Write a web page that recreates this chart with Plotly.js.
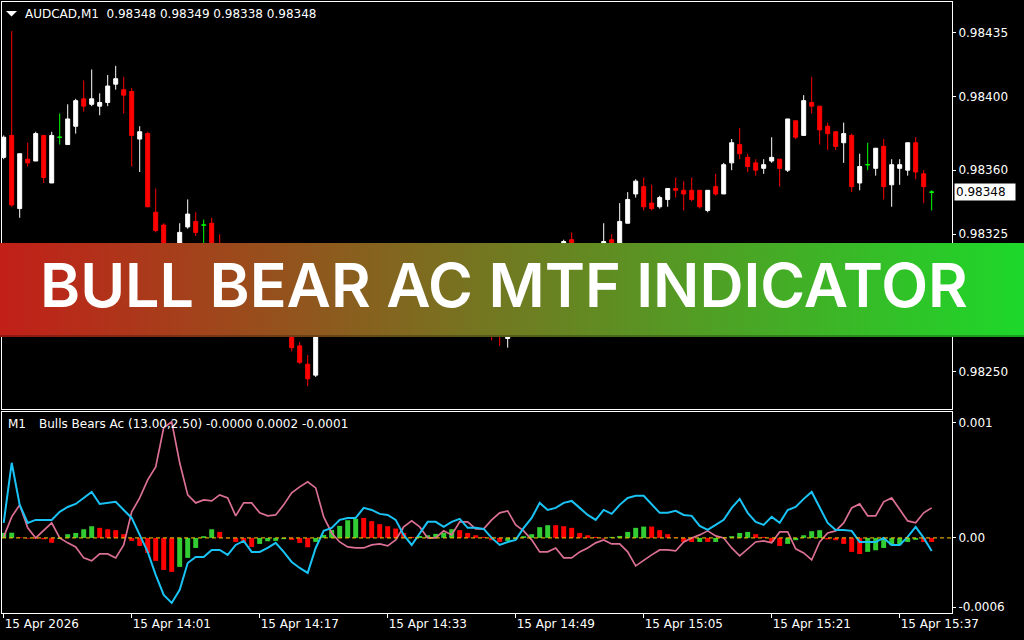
<!DOCTYPE html>
<html><head><meta charset="utf-8">
<script src="https://cdn.plot.ly/plotly-3.0.1.min.js"></script>
<style>html,body{margin:0;padding:0;background:#000;}#chart{width:1024px;height:640px;}</style>
</head><body><div id="chart"></div>
<script>
// ---- price data (AUDCAD, M1), one entry per minute from 13:45 ----
const opens=[0.98367,0.98379,0.98339,0.98366,0.98365,0.98379,0.98353,0.98378,0.98374,0.98384,
0.98399,0.98396,0.98395,0.98397,0.98407,0.98404,0.98403,0.98377,0.98380,0.98337,
0.98330,0.98310,0.98312,0.98329,0.98332,0.98330,0.98331,0.98318,0.98306,0.98299,
0.98303,0.98295,0.98290,0.98296,0.98286,0.98289,0.98276,0.98264,0.98254,0.98248,
0.98280,0.98288,0.98295,0.98299,0.98293,0.98298,0.98291,0.98287,0.98292,0.98283,
0.98279,0.98274,0.98281,0.98285,0.98283,0.98290,0.98286,0.98289,0.98295,0.98287,
0.98280,0.98276,0.98272,0.98268,0.98270,0.98281,0.98289,0.98294,0.98291,0.98303,
0.98311,0.98322,0.98308,0.98303,0.98310,0.98312,0.98322,0.98318,0.98331,0.98347,
0.98351,0.98342,0.98340,0.98344,0.98350,0.98349,0.98349,0.98349,0.98338,0.98351,
0.98347,0.98364,0.98374,0.98367,0.98364,0.98361,0.98365,0.98366,0.98360,0.98387,
0.98379,0.98397,0.98395,0.98384,0.98381,0.98375,0.98379,0.98353,0.98363,0.98361,
0.98373,0.98352,0.98361,0.98360,0.98375,0.98358,0.98348];
const highs=[0.98379,0.98436,0.98369,0.98375,0.98381,0.98379,0.98381,0.98391,0.98396,0.98399,
0.98409,0.98415,0.98402,0.98412,0.98417,0.98411,0.98405,0.98384,0.98381,0.98350,
0.98331,0.98318,0.98331,0.98344,0.98337,0.98333,0.98334,0.98325,0.98310,0.98305,
0.98308,0.98300,0.98298,0.98299,0.98292,0.98293,0.98280,0.98266,0.98259,0.98283,
0.98290,0.98297,0.98302,0.98304,0.98301,0.98303,0.98296,0.98294,0.98295,0.98289,
0.98284,0.98283,0.98288,0.98291,0.98293,0.98296,0.98292,0.98298,0.98299,0.98290,
0.98284,0.98280,0.98277,0.98272,0.98284,0.98292,0.98297,0.98300,0.98305,0.98314,
0.98322,0.98326,0.98315,0.98312,0.98316,0.98331,0.98325,0.98342,0.98348,0.98355,
0.98356,0.98352,0.98346,0.98350,0.98356,0.98354,0.98356,0.98349,0.98349,0.98358,
0.98364,0.98377,0.98383,0.98369,0.98366,0.98366,0.98378,0.98366,0.98388,0.98387,
0.98401,0.98411,0.98395,0.98386,0.98381,0.98386,0.98380,0.98369,0.98375,0.98372,
0.98377,0.98366,0.98366,0.98375,0.98378,0.98360,0.98349];
const lows=[0.98366,0.98340,0.98334,0.98362,0.98365,0.98353,0.98353,0.98374,0.98374,0.98380,
0.98392,0.98395,0.98390,0.98395,0.98404,0.98391,0.98362,0.98359,0.98340,0.98326,
0.98311,0.98306,0.98310,0.98328,0.98324,0.98318,0.98310,0.98302,0.98296,0.98294,
0.98292,0.98287,0.98288,0.98284,0.98280,0.98274,0.98261,0.98254,0.98242,0.98247,
0.98277,0.98285,0.98291,0.98290,0.98290,0.98289,0.98284,0.98283,0.98281,0.98276,
0.98269,0.98272,0.98278,0.98280,0.98281,0.98284,0.98282,0.98286,0.98285,0.98278,
0.98272,0.98267,0.98264,0.98263,0.98269,0.98278,0.98285,0.98288,0.98289,0.98300,
0.98309,0.98305,0.98300,0.98299,0.98305,0.98309,0.98312,0.98315,0.98331,0.98345,
0.98338,0.98338,0.98339,0.98340,0.98345,0.98338,0.98343,0.98339,0.98337,0.98346,
0.98347,0.98360,0.98366,0.98359,0.98357,0.98358,0.98364,0.98351,0.98359,0.98377,
0.98379,0.98391,0.98374,0.98371,0.98371,0.98364,0.98348,0.98349,0.98360,0.98357,
0.98344,0.98340,0.98352,0.98357,0.98355,0.98342,0.98338];
const closes=[0.98378,0.98341,0.98369,0.98364,0.98380,0.98356,0.98379,0.98378,0.98388,0.98398,
0.98395,0.98399,0.98397,0.98406,0.98410,0.98401,0.98379,0.98381,0.98340,0.98327,
0.98315,0.98316,0.98326,0.98336,0.98326,0.98330,0.98314,0.98306,0.98299,0.98303,
0.98295,0.98290,0.98296,0.98286,0.98289,0.98277,0.98263,0.98255,0.98246,0.98280,
0.98288,0.98295,0.98299,0.98293,0.98298,0.98291,0.98287,0.98292,0.98283,0.98279,
0.98274,0.98281,0.98285,0.98283,0.98290,0.98286,0.98289,0.98295,0.98287,0.98280,
0.98276,0.98272,0.98270,0.98270,0.98281,0.98289,0.98294,0.98291,0.98303,0.98311,
0.98321,0.98308,0.98303,0.98310,0.98313,0.98321,0.98315,0.98332,0.98344,0.98354,
0.98340,0.98339,0.98345,0.98350,0.98349,0.98347,0.98344,0.98340,0.98349,0.98347,
0.98363,0.98375,0.98369,0.98362,0.98360,0.98363,0.98367,0.98361,0.98388,0.98378,
0.98398,0.98395,0.98382,0.98380,0.98373,0.98380,0.98351,0.98362,0.98363,0.98372,
0.98351,0.98363,0.98363,0.98375,0.98359,0.98351,0.98348];

// ---- Bulls Bears Ac indicator ----
const acUp=[0.000043,0.000045,null,null,null,null,null,-0.00001,0.000032,0.000043,
0.000075,0.000101,null,null,null,null,null,null,null,null,
null,null,-0.000251,-0.000173,-0.000087,0.000015,0.000075,null,null,null,
null,null,-0.000052,-0.000029,-0.000026,-0.000011,null,null,null,-0.000035,
0.000026,0.000069,0.000104,0.000153,0.000165,null,null,null,null,null,
null,null,0.000017,0.000023,0.000035,0.000046,0.000075,null,null,null,
null,null,null,-0.000026,-0.000011,0.000015,0.000032,0.000093,0.00011,null,
null,null,null,null,null,null,0.000009,0.000017,0.000052,0.000087,
0.000098,null,null,null,null,null,null,-0.000035,null,-0.000035,
0.000006,0.000015,0.000043,0.000052,null,null,null,null,-0.000052,-0.00002,
0.000023,0.000058,0.000067,null,null,null,null,null,-0.000121,-0.000107,
-0.000087,-0.000063,-0.000058,-0.000035,-0.000017,null,null];
const acDown=[null,null,0.000005,-0.000006,-0.000008,-0.000012,-0.000042,null,null,null,
null,null,0.000087,0.000075,0.000067,0.000032,-0.000026,-0.000069,-0.00013,-0.000199,
-0.000277,-0.000294,null,null,null,null,null,0.000052,-0.000004,-0.000035,
-0.000043,-0.000078,null,null,null,null,-0.000017,-0.000043,-0.000081,null,
null,null,null,null,null,0.000173,0.000145,0.000119,0.000101,0.000081,
0.000043,0.000009,null,null,null,null,null,0.000067,0.000043,0.000023,
0.000009,-0.00002,-0.000035,null,null,null,null,null,null,0.00011,
0.000101,0.000087,0.000043,0.000023,0.000009,-0.000006,null,null,null,null,
null,0.000098,0.000067,0.000032,0.000006,-0.000035,-0.000035,null,-0.000035,null,
null,null,null,null,0.000032,0.000009,-0.000035,-0.000069,null,null,
null,null,null,-0.000013,-0.00002,-0.000052,-0.000121,-0.000139,null,null,
null,null,null,null,null,-0.000035,-0.000035];
const blueLine=[0.00013,0.00065,0.000286,0.00013,0.000156,0.000156,0.000156,0.000225,0.000268,0.000294,
0.000346,0.000398,0.000294,0.000303,0.000312,0.000242,0.000173,0.000026,-0.000121,-0.00032,
-0.000494,-0.000563,-0.00045,-0.000217,-0.000165,-0.000165,-0.000104,-0.000104,-0.000147,-0.000061,
-0.000026,-0.000121,-0.000121,-0.000087,-0.000043,-0.000121,-0.000208,-0.00026,-0.000303,-0.000087,
0.000061,0.000087,0.000156,0.000173,0.000173,0.00026,0.000242,0.000208,0.000199,0.000156,
0.000026,-0.000061,0.000043,0.000139,0.000139,0.000095,0.000139,0.000165,0.000087,0.000087,
0.000078,0,-0.000061,-0.000035,-0.000017,0.000087,0.000173,0.000303,0.000242,0.00026,
0.000303,0.00032,0.00026,0.000199,0.000156,0.000242,0.000208,0.000286,0.000346,0.000364,
0.000364,0.000286,0.000217,0.000217,0.000234,0.000199,0.000191,0.000104,0.000069,0.000113,
0.000156,0.00026,0.000338,0.000217,0.000139,0.000113,0.000182,0.00013,0.000242,0.000268,
0.000338,0.000398,0.00026,0.00013,0.000069,0.000069,0.000061,-0.000035,-0.000035,-0.000035,
0,-0.000061,-0.000061,0.000009,0.000095,0,-0.000113];
const pinkLine=[0.000009,0.000182,0.000286,0.000087,0,0.000069,0.00013,0,-0.000043,-0.000078,
-0.000173,-0.000199,-0.000139,-0.000139,-0.000173,-0.000061,0.000225,0.000346,0.000502,0.000615,
0.000953,0.001005,0.00065,0.000372,0.000303,0.000329,0.00032,0.000372,0.000346,0.000191,
0.000303,0.000303,0.000217,0.000191,0.000199,0.000286,0.00039,0.000442,0.000485,0.000433,
0.000182,0.000043,-0.000035,-0.000078,-0.000087,-0.000087,-0.000061,-0.000052,-0.000069,-0.000017,
0.000095,0.000147,0.000095,0,0,0.000061,0.000026,0.000139,0.000139,0.000078,
0.000078,0.000156,0.000217,0.000234,0.000113,0.000061,-0.000017,-0.000121,-0.000121,-0.000087,
-0.000173,-0.000173,-0.000121,-0.000087,-0.000043,-0.000017,-0.000052,-0.000052,-0.000121,-0.000242,
-0.000191,-0.000147,-0.000104,-0.000104,-0.000113,-0.000035,0,0.000026,0.000061,0.000017,
0,-0.000087,-0.000156,-0.000095,-0.000035,-0.000026,-0.000043,0.000052,0.000052,-0.000095,
-0.00013,-0.000191,-0.000035,0.000043,0.000061,0.00013,0.00026,0.000294,0.000191,0.000191,
0.000312,0.000346,0.000242,0.000147,0.00013,0.000217,0.00026];

// ---- axis labels ----
const timeTickIdx=[0,16,32,48,64,80,96,112];
const timeTickText=['15 Apr 2026','15 Apr 14:01','15 Apr 14:17','15 Apr 14:33','15 Apr 14:49','15 Apr 15:05','15 Apr 15:21','15 Apr 15:37'];
const priceTicks=[0.98250,0.98325,0.98360,0.98400,0.98435];
const indTicks=[-0.0006,0,0.001];
const indTickText=['-0.0006','0.00','0.001'];
const symbolHeader='AUDCAD,M1\u00a0\u00a00.98348 0.98349 0.98338 0.98348';
const indName='Bulls Bears Ac (13.00,2.50) -0.0000 0.0002 -0.0001';
const lastPrice=0.98348;
const bannerText='BULL BEAR AC MTF INDICATOR';

const idx=opens.map((_,i)=>i);
function pick(cond){
  const s={x:[],open:[],high:[],low:[],close:[]};
  idx.forEach(i=>{ if(cond(i)){s.x.push(i);s.open.push(opens[i]);s.high.push(highs[i]);s.low.push(lows[i]);s.close.push(closes[i]);} });
  return s;
}
const bull=pick(i=>closes[i]>opens[i]);
const bear=pick(i=>closes[i]<opens[i]);
const doji=pick(i=>closes[i]===opens[i]);

function candle(s,col){
  return Object.assign({type:'candlestick',xaxis:'x',yaxis:'y',hoverinfo:'skip',
    increasing:{line:{color:col,width:1},fillcolor:col},
    decreasing:{line:{color:col,width:1},fillcolor:col}},s);
}
const FONT='DejaVu Sans, sans-serif';
const traces=[
  candle(bull,'#ffffff'),candle(bear,'#ff0000'),candle(doji,'#00ff00'),
  {type:'bar',x:idx,y:acUp,xaxis:'x2',yaxis:'y2',marker:{color:'#32cd32',line:{width:0}},width:0.62,hoverinfo:'skip'},
  {type:'bar',x:idx,y:acDown,xaxis:'x2',yaxis:'y2',marker:{color:'#ff0000',line:{width:0}},width:0.62,hoverinfo:'skip'},
  {type:'scatter',mode:'lines',x:idx,y:pinkLine,xaxis:'x2',yaxis:'y2',line:{color:'#db7093',width:1.7},hoverinfo:'skip'},
  {type:'scatter',mode:'lines',x:idx,y:blueLine,xaxis:'x2',yaxis:'y2',line:{color:'#19c3f5',width:2},hoverinfo:'skip'}
];

const PX=p=>(p-2)/950, PY=p=>(613-p)/611;
const xr=[-0.2125,118.54];
const gradSvg="<svg xmlns='http://www.w3.org/2000/svg' width='1024' height='94' viewBox='0 0 1024 94' preserveAspectRatio='none'><defs><linearGradient id='g' x1='0' y1='0' x2='1' y2='0'><stop offset='0' stop-color='#c21f18'/><stop offset='1' stop-color='#1dd82a'/></linearGradient></defs><rect width='1024' height='94' fill='url(#g)'/><rect y='92' width='1024' height='2' fill='#000' fill-opacity='0.25'/></svg>";

const layout={
  width:1024,height:640,paper_bgcolor:'#000',plot_bgcolor:'#000',
  margin:{l:2,r:72,t:2,b:27},showlegend:false,
  boxgap:0.5,boxgroupgap:0,barmode:'overlay',
  font:{family:FONT,size:12,color:'#ffffff'},
  xaxis:{domain:[0,1],anchor:'y',range:xr,showticklabels:false,ticks:'',showgrid:false,zeroline:false,
    showline:true,mirror:true,linecolor:'#ffffff',linewidth:1,rangeslider:{visible:false},fixedrange:true},
  yaxis:{domain:[0.3339,1],anchor:'x',side:'right',range:[0.982295,0.984519],tickvals:priceTicks,
    ticktext:priceTicks.map(v=>v.toFixed(5)),ticks:'outside',ticklen:3,tickcolor:'#ffffff',
    showgrid:false,zeroline:false,showline:true,mirror:true,linecolor:'#ffffff',linewidth:1,
    tickfont:{family:FONT,size:12,color:'#ffffff'}},
  xaxis2:{domain:[0,1],anchor:'y2',range:xr,tickvals:timeTickIdx,ticktext:timeTickText,ticks:'outside',ticklen:4,
    tickcolor:'#ffffff',ticklabelposition:'outside right',showgrid:false,zeroline:false,showline:true,mirror:true,
    linecolor:'#ffffff',linewidth:1,tickfont:{family:FONT,size:12,color:'#ffffff'}},
  yaxis2:{domain:[0,0.329],anchor:'x2',side:'right',range:[-0.00065,0.00109],tickvals:indTicks,ticktext:indTickText,
    ticks:'outside',ticklen:3,tickcolor:'#ffffff',showgrid:false,zeroline:false,showline:true,mirror:true,
    linecolor:'#ffffff',linewidth:1,tickfont:{family:FONT,size:12,color:'#ffffff'}},
  shapes:[
    {type:'line',xref:'x2 domain',yref:'y2',x0:0,x1:1,y0:0,y1:0,line:{color:'#ffc800',width:1,dash:'4px,3px'}},
    {type:'path',xref:'paper',yref:'paper',path:`M${PX(6)},${PY(11)} L${PX(17)},${PY(11)} L${PX(11.5)},${PY(16.5)} Z`,
      fillcolor:'#ffffff',line:{width:0}}
  ],
  images:[{source:'data:image/svg+xml;charset=utf-8,'+encodeURIComponent(gradSvg),xref:'paper',yref:'paper',
    x:PX(0),y:PY(243),sizex:1024/950,sizey:94/611,xanchor:'left',yanchor:'top',sizing:'stretch',layer:'above'}],
  annotations:[
    {text:symbolHeader,xref:'paper',yref:'paper',x:PX(23),y:PY(14),xanchor:'left',yanchor:'middle',showarrow:false,
      font:{family:FONT,size:12,color:'#ffffff'}},
    {text:'M1',xref:'paper',yref:'paper',x:PX(6),y:PY(424),xanchor:'left',yanchor:'middle',showarrow:false,
      font:{family:FONT,size:12,color:'#ffffff'}},
    {text:indName,xref:'paper',yref:'paper',x:PX(37),y:PY(424),xanchor:'left',yanchor:'middle',showarrow:false,
      font:{family:FONT,size:12,color:'#ffffff'}},
    {text:lastPrice.toFixed(5),xref:'paper',yref:'y',x:PX(954),y:lastPrice,xanchor:'left',yanchor:'middle',showarrow:false,
      bgcolor:'#ffffff',font:{family:FONT,size:12,color:'#000000'},borderpad:1,width:58,align:'left'},
    {text:bannerText,xref:'paper',yref:'paper',x:PX(504),y:PY(285),xanchor:'center',yanchor:'middle',showarrow:false,
      font:{family:'Inter, sans-serif',size:61,weight:600,color:'#ffffff'}}
  ]
};
Plotly.newPlot('chart',traces,layout,{displayModeBar:false,staticPlot:true});
</script></body></html>
